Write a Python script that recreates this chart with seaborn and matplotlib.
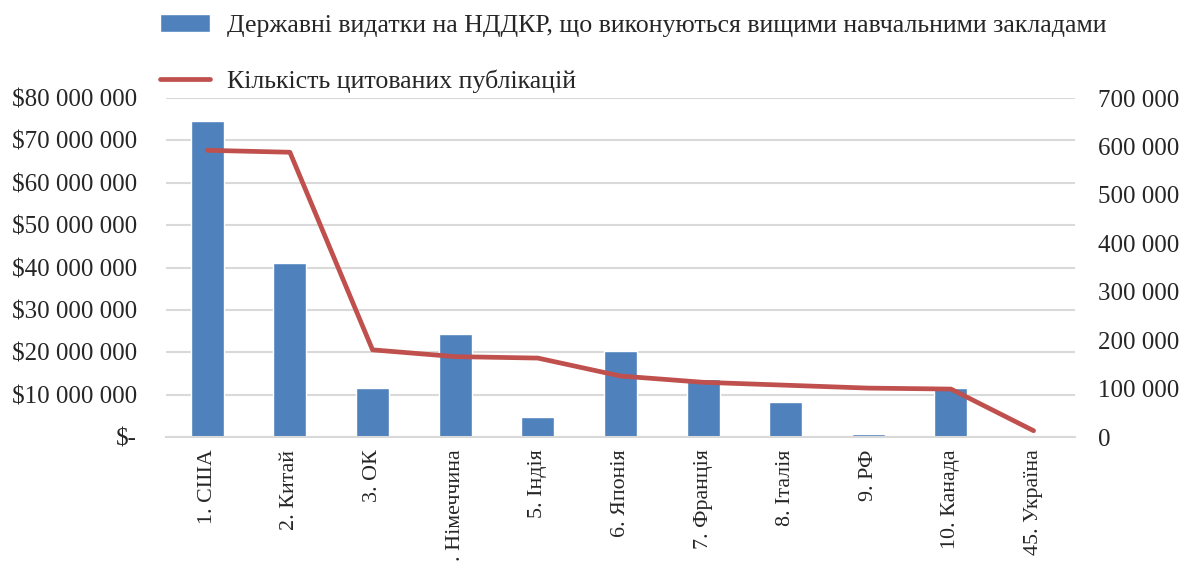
import matplotlib
matplotlib.use("Agg")
import matplotlib.pyplot as plt
from matplotlib.ticker import FuncFormatter, MultipleLocator
import numpy as np
import pandas as pd
import seaborn as sns

countries = ["1. США", "2. Китай", "3. ОК", "4. Німеччина", "5. Індія", "6. Японія",
             "7. Франція", "8. Італія", "9. РФ", "10. Канада", "45. Україна"]
spending = [74.6e6, 41.0e6, 11.6e6, 24.3e6, 4.7e6, 20.3e6, 13.6e6, 8.2e6, 0.7e6, 11.6e6, 0]
citations = [592000, 588000, 180000, 166000, 163000, 126000, 113000, 107000, 101000, 99000, 13000]

bar_label = "Державні видатки на НДДКР, що виконуються вищими навчальними закладами"
line_label = "Кількість цитованих публікацій"

sns.set_theme(style="white")
plt.rcParams["font.family"] = ["Liberation Serif", "DejaVu Serif"]
fs = 18

df = pd.DataFrame({"country": countries, "spending": spending, "citations": citations})

fig = plt.figure(figsize=(11.82, 5.61), dpi=100)
ax = fig.add_axes([0.1404, 0.221, 0.769, 0.6043])

sns.barplot(data=df, x="country", y="spending", color="#4F81BD", saturation=1,
            width=0.4, ax=ax, label=bar_label)
ax.set_ylim(0, 80e6)
ax.yaxis.set_major_locator(MultipleLocator(10e6))
ax.yaxis.grid(True, color="#d9d9d9", linewidth=1.5)
ax.set_axisbelow(True)

def money(v, pos):
    if v == 0:
        return "$-"
    return "$" + f"{v:,.0f}".replace(",", " ")

ax.yaxis.set_major_formatter(FuncFormatter(money))
ax.set_xlabel("")
ax.set_ylabel("")
ax.tick_params(axis="y", labelsize=fs, pad=21, length=0)
ax.tick_params(axis="x", labelsize=15.8, length=0, pad=9, rotation=90)
for s in ["top", "left", "right"]:
    ax.spines[s].set_visible(False)
ax.spines["bottom"].set_color("#d9d9d9")
ax.spines["bottom"].set_linewidth(1.5)

ax2 = ax.twinx()
sns.lineplot(x=np.arange(len(countries)), y=citations, color="#C0504D", linewidth=3.4,
             ax=ax2, label=line_label, legend=False)
ax2.set_ylim(0, 700000)
ax2.yaxis.set_major_locator(MultipleLocator(100000))
ax2.yaxis.set_major_formatter(FuncFormatter(lambda v, p: f"{v:,.0f}".replace(",", " ")))
ax2.tick_params(axis="y", labelsize=fs, pad=16.5, length=0)
for s in ["top", "left", "right", "bottom"]:
    ax2.spines[s].set_visible(False)
ax.set_xlim(-0.5, len(countries) - 0.5)

if ax.get_legend() is not None:
    ax.get_legend().remove()
h1, l1 = ax.get_legend_handles_labels()
h2, l2 = ax2.get_legend_handles_labels()
fig.legend(h1 + h2, l1 + l2, loc="upper left", bbox_to_anchor=(0.1155, 1.016),
           frameon=False, fontsize=18.6, handlelength=1.94, handletextpad=0.66,
           labelspacing=1.25)

fig.savefig("out.png", dpi=100)
